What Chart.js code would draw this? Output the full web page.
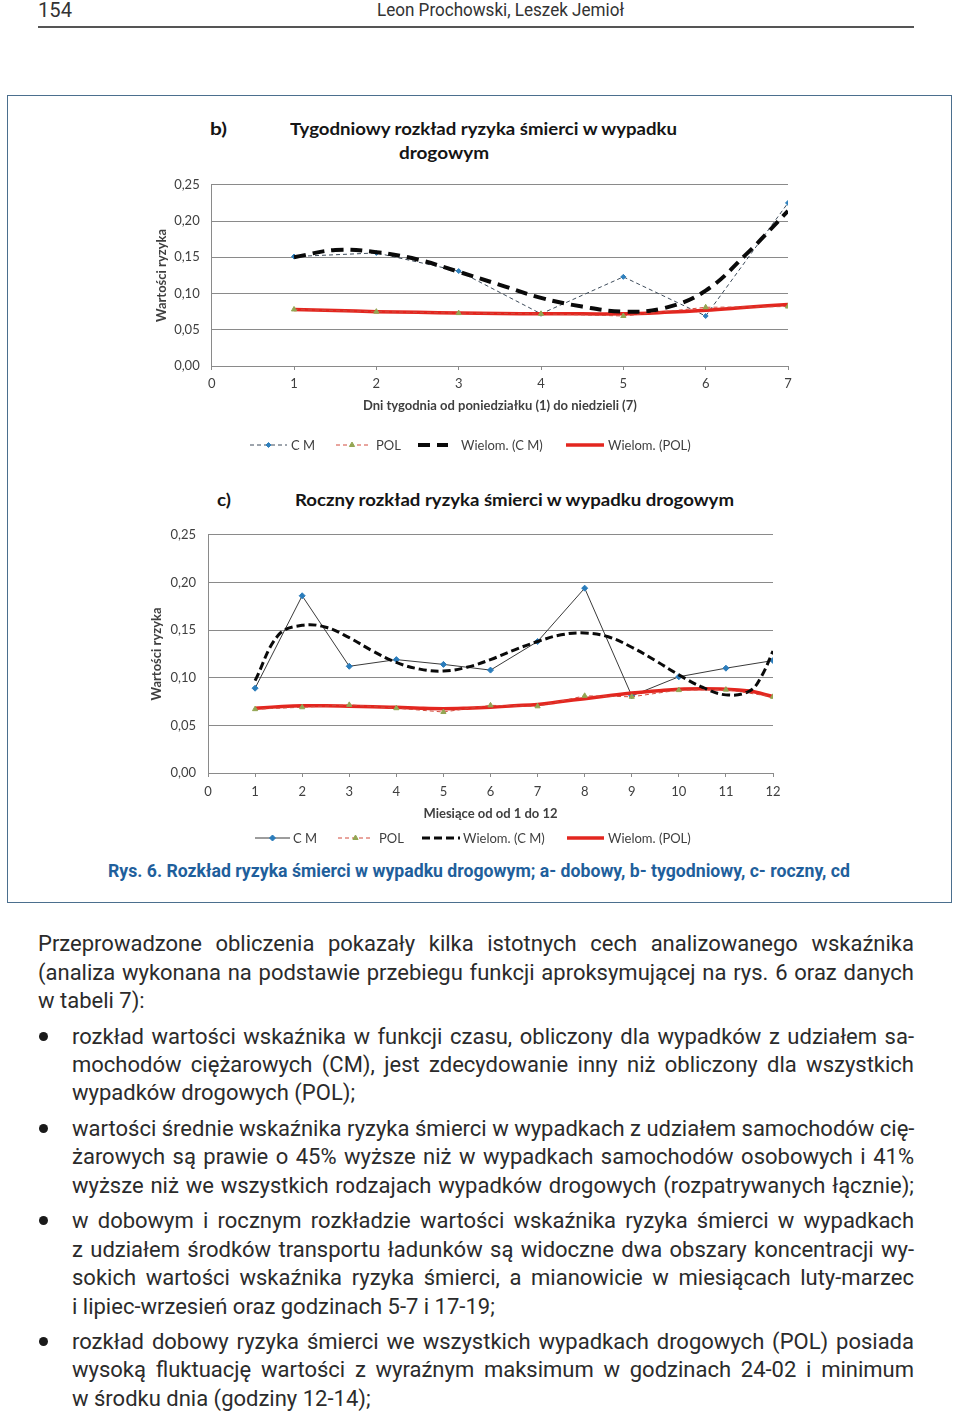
<!DOCTYPE html>
<html lang="pl">
<head>
<meta charset="utf-8">
<script src="https://cdn.jsdelivr.net/npm/chart.js@4.4.1/dist/chart.umd.min.js"></script>
<style>
html,body{margin:0;padding:0;background:#fff;}
body{width:960px;height:1415px;position:relative;overflow:hidden;font-family:Roboto,"Noto Sans",sans-serif;color:#2b2b2b;}
.a{position:absolute;white-space:nowrap;transform-origin:0 50%;}
#rule{position:absolute;left:38px;top:26px;width:876px;height:1.5px;background:#555;}
#box{position:absolute;left:7px;top:95px;width:945px;height:808px;border:1.6px solid #4b6f8e;box-sizing:border-box;}
.ct{font-family:Lato,"Open Sans",sans-serif;font-weight:700;font-size:17px;color:#151515;line-height:22px;}
.ln{position:absolute;height:28px;line-height:28px;font-size:22px;white-space:nowrap;text-align:justify;text-align-last:justify;color:#2b2b2b;}
.ln.last{text-align:left;text-align-last:left;}
.bul{position:absolute;left:39px;width:9px;height:9px;border-radius:50%;background:#1a1a1a;}
canvas{position:absolute;}
</style>
</head>
<body>
<div class="a" id="pg" data-w="34" style="left:38px;top:-2px;font-size:21px;line-height:24px;color:#333;">154</div>
<div class="a" id="auth" data-w="247" data-cx="500" style="top:-1px;font-size:18px;line-height:22px;color:#333;">Leon Prochowski, Leszek Jemioł</div>
<div id="rule"></div>
<div id="box"></div>

<div class="a ct" data-w="17" style="left:210px;top:118px;">b)</div>
<div class="a ct" data-w="387" style="left:290px;top:118px;">Tygodniowy rozkład ryzyka śmierci w wypadku</div>
<div class="a ct" data-w="90" style="left:399px;top:142px;">drogowym</div>
<canvas id="chartB" width="680" height="295" style="left:140px;top:165px;width:680px;height:295px;"></canvas>

<div class="a ct" data-w="14" style="left:217px;top:489px;">c)</div>
<div class="a ct" data-w="439" style="left:295px;top:489px;">Roczny rozkład ryzyka śmierci w wypadku drogowym</div>
<canvas id="chartC" width="680" height="340" style="left:140px;top:515px;width:680px;height:340px;"></canvas>

<div class="a" data-w="742" style="left:108px;top:860px;font-size:18px;line-height:22px;font-weight:700;color:#1f5f9c;">Rys. 6. Rozkład ryzyka śmierci w wypadku drogowym; a- dobowy, b- tygodniowy, c- roczny, cd</div>

<div class="ln" style="left:38px;width:876px;top:930px;">Przeprowadzone obliczenia pokazały kilka istotnych cech analizowanego wskaźnika</div>
<div class="ln" style="left:38px;width:876px;top:959px;">(analiza wykonana na podstawie przebiegu funkcji aproksymującej na rys. 6 oraz danych</div>
<div class="ln last" style="left:38px;width:876px;top:987px;">w tabeli 7):</div>

<div class="bul" style="top:1032px;"></div>
<div class="ln" style="left:72px;width:842px;top:1023px;">rozkład wartości wskaźnika w funkcji czasu, obliczony dla wypadków z udziałem sa-</div>
<div class="ln" style="left:72px;width:842px;top:1051px;">mochodów ciężarowych (CM), jest zdecydowanie inny niż obliczony dla wszystkich</div>
<div class="ln last" style="left:72px;width:842px;top:1079px;">wypadków drogowych (POL);</div>

<div class="bul" style="top:1124px;"></div>
<div class="ln" style="left:72px;width:842px;top:1115px;">wartości średnie wskaźnika ryzyka śmierci w wypadkach z udziałem samochodów cię-</div>
<div class="ln" style="left:72px;width:842px;top:1143px;">żarowych są prawie o 45% wyższe niż w wypadkach samochodów osobowych i 41%</div>
<div class="ln" style="left:72px;width:842px;top:1172px;">wyższe niż we wszystkich rodzajach wypadków drogowych (rozpatrywanych łącznie);</div>

<div class="bul" style="top:1216px;"></div>
<div class="ln" style="left:72px;width:842px;top:1207px;">w dobowym i rocznym rozkładzie wartości wskaźnika ryzyka śmierci w wypadkach</div>
<div class="ln" style="left:72px;width:842px;top:1236px;">z udziałem środków transportu ładunków są widoczne dwa obszary koncentracji wy-</div>
<div class="ln" style="left:72px;width:842px;top:1264px;">sokich wartości wskaźnika ryzyka śmierci, a mianowicie w miesiącach luty-marzec</div>
<div class="ln last" style="left:72px;width:842px;top:1293px;">i lipiec-wrzesień oraz godzinach 5-7 i 17-19;</div>

<div class="bul" style="top:1337px;"></div>
<div class="ln" style="left:72px;width:842px;top:1328px;">rozkład dobowy ryzyka śmierci we wszystkich wypadkach drogowych (POL) posiada</div>
<div class="ln" style="left:72px;width:842px;top:1356px;">wysoką fluktuację wartości z wyraźnym maksimum w godzinach 24-02 i minimum</div>
<div class="ln last" style="left:72px;width:842px;top:1385px;">w środku dnia (godziny 12-14);</div>

<script>
// ---------- DATA ----------
const seriesLabels = ['C M', 'POL', 'Wielom. (C M)', 'Wielom. (POL)'];

// b) weekly
const weekDays = [1, 2, 3, 4, 5, 6, 7];
const weekCM = [0.151, 0.156, 0.131, 0.072, 0.123, 0.069, 0.225];
const weekPOL = [0.078, 0.075, 0.073, 0.072, 0.069, 0.081, 0.082];
const weekTrendX = [1, 1.5, 2, 2.5, 3, 3.5, 4, 4.5, 5, 5.5, 6, 6.5, 7];
const weekTrendCM = [0.150, 0.160, 0.157, 0.147, 0.130, 0.112, 0.094, 0.082, 0.075, 0.080, 0.104, 0.155, 0.214];
const weekTrendPOL = [0.078, 0.0765, 0.075, 0.074, 0.073, 0.0725, 0.072, 0.072, 0.072, 0.074, 0.077, 0.081, 0.085];

// c) yearly
const months = [1, 2, 3, 4, 5, 6, 7, 8, 9, 10, 11, 12];
const monthCM = [0.089, 0.186, 0.112, 0.119, 0.114, 0.108, 0.138, 0.194, 0.081, 0.101, 0.110, 0.118];
const monthPOL = [0.067, 0.069, 0.0715, 0.068, 0.064, 0.071, 0.070, 0.081, 0.080, 0.087, 0.0875, 0.080];
const monthTrendX = [1, 1.5, 2, 2.5, 3, 3.5, 4, 4.5, 5, 5.5, 6, 6.5, 7, 7.5, 8, 8.5, 9, 9.5, 10, 10.5, 11, 11.5, 11.75, 12];
const monthTrendCM = [0.097, 0.145, 0.155, 0.153, 0.142, 0.128, 0.116, 0.109, 0.107, 0.111, 0.119, 0.129, 0.138, 0.145, 0.147, 0.143, 0.132, 0.118, 0.103, 0.090, 0.082, 0.086, 0.101, 0.128];
const monthTrendPOL = [0.068, 0.0695, 0.0705, 0.0705, 0.070, 0.0695, 0.069, 0.068, 0.0675, 0.068, 0.069, 0.0705, 0.072, 0.075, 0.078, 0.081, 0.084, 0.086, 0.088, 0.0885, 0.088, 0.086, 0.0835, 0.080];

// y axis tick labels
const yTickLabels = ['0,00', '0,05', '0,10', '0,15', '0,20', '0,25'];

// ---------- helpers ----------
const pts = (xs, ys) => xs.map((x, i) => ({x: x, y: ys[i]}));
const FONT = 'Lato, "Open Sans", sans-serif';
const TXT = '#3f3f3f';
const GRID = '#8a8a8a';

const lineLegend = {
  id: 'lineLegend',
  afterDraw(chart, args, opts) {
    const ctx = chart.ctx;
    ctx.save();
    opts.items.forEach(it => {
      const ds = chart.data.datasets[it.ds];
      ctx.beginPath();
      ctx.setLineDash(it.dash || ds.borderDash || []);
      ctx.lineWidth = ds.borderWidth;
      ctx.strokeStyle = ds.borderColor;
      ctx.moveTo(it.x0, opts.y);
      ctx.lineTo(it.x1, opts.y);
      ctx.stroke();
      ctx.setLineDash([]);
      if (ds.pointRadius > 0) {
        ctx.fillStyle = ds.pointBackgroundColor;
        ctx.strokeStyle = ds.pointBorderColor;
        ctx.lineWidth = 1;
        Chart.helpers.drawPoint(ctx, {pointStyle: ds.pointStyle, radius: ds.pointRadius, rotation: 0, borderWidth: 1}, it.mx || (it.x0 + it.x1) / 2, opts.y);
      }
      ctx.fillStyle = TXT;
      ctx.font = '13px ' + FONT;
      ctx.textBaseline = 'middle';
      ctx.textAlign = 'left';
      ctx.fillText(ds.label, it.tx, opts.y + 1);
    });
    ctx.restore();
  }
};

function makeChart(id, cfg) {
  return new Chart(document.getElementById(id), {
    type: 'line',
    data: {datasets: cfg.datasets},
    plugins: [lineLegend],
    options: {
      responsive: false,
      animation: false,
      devicePixelRatio: 1,
      layout: {padding: cfg.padding},
      plugins: {
        legend: {display: false},
        tooltip: {enabled: false},
        lineLegend: cfg.legend
      },
      scales: {
        x: {
          type: 'linear', min: 0, max: cfg.xMax,
          afterFit: s => { s.height = cfg.xH; },
          ticks: {stepSize: 1, autoSkip: false, color: TXT, padding: cfg.xPad, font: {family: FONT, size: 13}},
          grid: {drawOnChartArea: false, drawTicks: true, tickLength: 4, color: GRID},
          border: {display: true, color: GRID, width: 1},
          title: {display: true, text: cfg.xTitle, color: TXT, font: {family: FONT, size: 13, weight: 'bold'}, padding: {top: 0, bottom: cfg.xTitlePad}}
        },
        y: {
          min: 0, max: 0.25,
          afterFit: s => { s.width = cfg.yW; },
          ticks: {stepSize: 0.05, color: TXT, padding: cfg.yPad, font: {family: FONT, size: 13},
                  callback: v => yTickLabels[Math.round(v / 0.05)]},
          grid: {color: GRID, lineWidth: 1, drawTicks: false},
          border: {display: true, color: GRID, width: 1},
          title: {display: true, text: 'Wartości ryzyka', color: TXT, font: {family: FONT, size: 13, weight: 'bold'}, padding: {top: cfg.yTitlePad, bottom: 0}}
        }
      }
    }
  });
}

// b) weekly chart
makeChart('chartB', {
  xMax: 7, xH: 54, xPad: 6, xTitlePad: 6, yW: 71.7, yPad: 12, yTitlePad: 14,
  padding: {top: 18, right: 32, bottom: 40, left: 0},
  xTitle: 'Dni tygodnia od poniedziałku (1) do niedzieli (7)',
  legend: {y: 280, items: [
    {ds: 0, x0: 110, x1: 147, tx: 151},
    {ds: 1, x0: 196, x1: 228, tx: 236},
    {ds: 2, x0: 278, x1: 308, tx: 321},
    {ds: 3, x0: 426, x1: 464, tx: 468}
  ]},
  datasets: [
    {label: seriesLabels[0], data: pts(weekDays, weekCM), order: 3, borderColor: '#3d4b5a', borderWidth: 1, borderDash: [4, 3],
     pointStyle: 'rectRot', pointRadius: 2.5, pointBackgroundColor: '#2f80bd', pointBorderColor: '#2f80bd', tension: 0},
    {label: seriesLabels[1], data: pts(weekDays, weekPOL), order: 0, borderColor: '#d24a3c', borderWidth: 1, borderDash: [4, 3],
     pointStyle: 'triangle', pointRadius: 3, pointBackgroundColor: '#93a653', pointBorderColor: '#93a653', tension: 0},
    {label: seriesLabels[2], data: pts(weekTrendX, weekTrendCM), order: 1, borderColor: '#0a0a0a', borderWidth: 4, borderDash: [12, 7],
     pointRadius: 0, tension: 0.4},
    {label: seriesLabels[3], data: pts(weekTrendX, weekTrendPOL), order: 2, borderColor: '#e3261f', borderWidth: 3.5,
     pointRadius: 0, tension: 0.4}
  ]
});

// c) yearly chart
makeChart('chartC', {
  xMax: 12, xH: 52, xPad: 7, xTitlePad: 3, yW: 68, yPad: 12, yTitlePad: 9,
  padding: {top: 17, right: 47, bottom: 30, left: 0},
  xTitle: 'Miesiące od od 1 do 12',
  legend: {y: 323, items: [
    {ds: 0, x0: 115, x1: 150, tx: 153},
    {ds: 1, x0: 198, x1: 233, tx: 239},
    {ds: 2, x0: 282, x1: 320, tx: 323},
    {ds: 3, x0: 427, x1: 464, tx: 468}
  ]},
  datasets: [
    {label: seriesLabels[0], data: pts(months, monthCM), order: 3, borderColor: '#3a3a3a', borderWidth: 1,
     pointStyle: 'rectRot', pointRadius: 3, pointBackgroundColor: '#2a7cbb', pointBorderColor: '#2a7cbb', tension: 0},
    {label: seriesLabels[1], data: pts(months, monthPOL), order: 0, borderColor: '#d24a3c', borderWidth: 1, borderDash: [4, 3],
     pointStyle: 'triangle', pointRadius: 3, pointBackgroundColor: '#93a653', pointBorderColor: '#93a653', tension: 0},
    {label: seriesLabels[2], data: pts(monthTrendX, monthTrendCM), order: 1, borderColor: '#0a0a0a', borderWidth: 3, borderDash: [8, 4],
     pointRadius: 0, tension: 0.4},
    {label: seriesLabels[3], data: pts(monthTrendX, monthTrendPOL), order: 2, borderColor: '#e3261f', borderWidth: 3.5,
     pointRadius: 0, tension: 0.4}
  ]
});

// fit condensed header / caption / title texts to their widths
document.querySelectorAll('[data-w]').forEach(el => {
  const w = parseFloat(el.dataset.w);
  const ow = el.getBoundingClientRect().width;
  if (el.dataset.cx) el.style.left = (parseFloat(el.dataset.cx) - w / 2) + 'px';
  if (ow > 0) el.style.transform = 'scaleX(' + (w / ow) + ')';
});
</script>
</body>
</html>
